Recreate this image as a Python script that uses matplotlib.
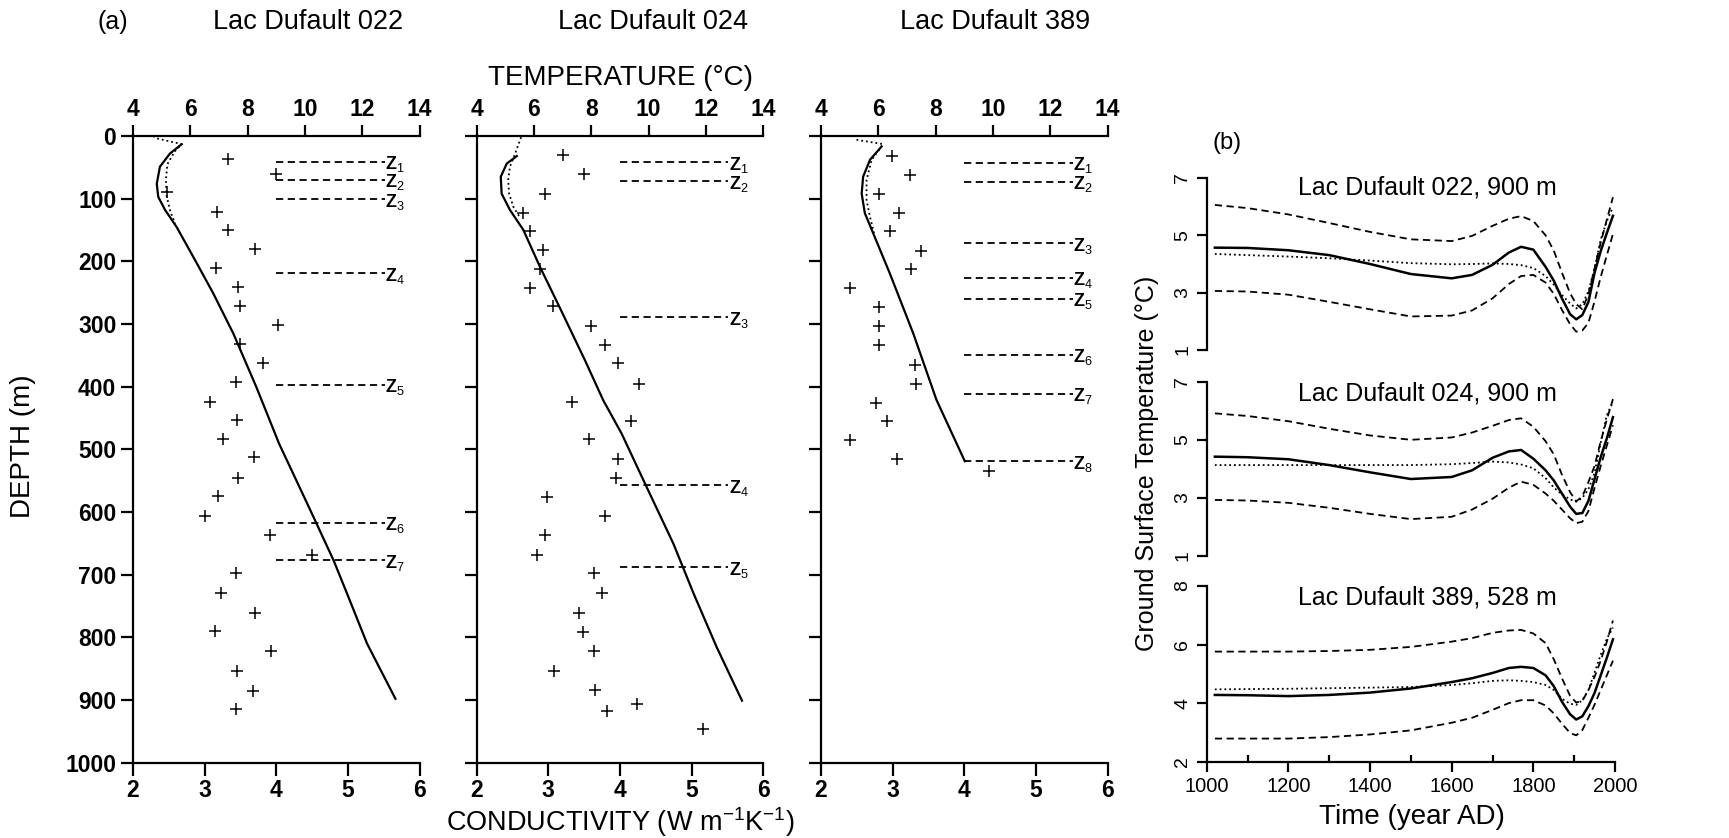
import numpy as np
import matplotlib
matplotlib.use('Agg')
import matplotlib.pyplot as plt

plt.rcParams['font.family'] = ['Liberation Sans', 'DejaVu Sans']
plt.rcParams['mathtext.fontset'] = 'custom'
plt.rcParams['mathtext.rm'] = 'Liberation Sans'
plt.rcParams['mathtext.bf'] = 'Liberation Sans:bold'
plt.rcParams['mathtext.it'] = 'Liberation Sans:italic'

##### (a) borehole profiles ##########################################
# temperature log (solid), depth in m / temperature in C
t022_depth = [13, 28, 49, 76, 97, 118, 145, 200, 251, 315, 400, 491, 603, 677, 730, 810, 898]
t022_temp = [5.70, 5.29, 4.94, 4.83, 4.88, 5.12, 5.52, 6.19, 6.80, 7.50, 8.30, 9.10, 10.25, 11.00, 11.47, 12.17, 13.16]
t024_depth = [32, 44, 65, 92, 118, 150, 209, 272, 358, 422, 475, 560, 651, 730, 816, 901]
t024_temp = [5.40, 5.05, 4.84, 4.87, 5.16, 5.63, 6.21, 6.88, 7.78, 8.42, 9.06, 9.93, 10.87, 11.57, 12.38, 13.26]
t389_depth = [17, 38, 65, 92, 123, 155, 219, 315, 421, 519]
t389_temp = [6.11, 5.71, 5.47, 5.42, 5.53, 5.82, 6.40, 7.22, 8.03, 9.02]

# model fit near surface (dotted)
f022_depth = [0, 4, 13, 25, 45, 70, 95, 120, 140]
f022_temp = [4.70, 4.85, 5.70, 5.45, 5.20, 5.15, 5.17, 5.30, 5.47]
f024_depth = [2, 28, 49, 70, 92, 113, 130]
f024_temp = [5.55, 5.34, 5.16, 5.10, 5.13, 5.28, 5.51]
f389_depth = [6, 13, 38, 70, 102, 129, 155]
f389_temp = [5.24, 6.17, 5.77, 5.59, 5.59, 5.71, 5.85]

# conductivity samples (+)
k022_depth = [36, 60, 90, 121, 150, 181, 211, 241, 272, 302, 332, 362, 393, 424, 453, 484,
              513, 546, 575, 607, 637, 668, 698, 729, 761, 790, 821, 853, 885, 914]
k022_cond = [3.32, 4.00, 2.47, 3.17, 3.33, 3.71, 3.16, 3.46, 3.50, 4.03, 3.49, 3.81, 3.44, 3.07, 3.45, 3.25,
             3.69, 3.46, 3.18, 3.00, 3.91, 4.50, 3.44, 3.23, 3.71, 3.14, 3.92, 3.45, 3.68, 3.44]
k024_depth = [31, 61, 93, 123, 151, 182, 213, 242, 272, 303, 334, 363, 395, 424, 454, 484, 515,
              545, 576, 607, 637, 668, 697, 729, 761, 792, 822, 854, 884, 907, 917, 946]
k024_cond = [3.20, 3.50, 2.95, 2.64, 2.75, 2.92, 2.88, 2.75, 3.07, 3.60, 3.79, 3.97, 4.26, 3.33, 4.15, 3.57, 3.97,
             3.95, 2.98, 3.79, 2.95, 2.84, 3.64, 3.75, 3.43, 3.48, 3.64, 3.08, 3.65, 4.24, 3.82, 5.16]
k389_depth = [32, 62, 93, 123, 152, 183, 213, 243, 273, 303, 333, 366, 395, 426, 455, 485, 515, 535]
k389_cond = [2.99, 3.24, 2.81, 3.09, 2.96, 3.39, 3.25, 2.41, 2.81, 2.81, 2.81, 3.31, 3.32, 2.77, 2.92, 2.41, 3.06, 4.34]

# depths of the Z levels
z022 = [41, 70, 101, 219, 397, 617, 677]
z024 = [42, 72, 289, 557, 688]
z389 = [43, 73, 171, 226, 260, 349, 411, 519]

titles_a = ['Lac Dufault 022', 'Lac Dufault 024', 'Lac Dufault 389']

##### (b) ground surface temperature histories #########################
years = [1020, 1100, 1200, 1300, 1400, 1500, 1600, 1650, 1700, 1740, 1770, 1800,
         1830, 1850, 1870, 1890, 1905, 1920, 1935, 1950, 1965, 1980, 1995]

g022_mid = [4.57, 4.56, 4.48, 4.31, 4.00, 3.65, 3.50, 3.62, 3.97, 4.40, 4.60, 4.50,
            3.90, 3.42, 2.80, 2.25, 2.07, 2.22, 2.68, 3.70, 4.45, 5.08, 5.68]
g022_up = [6.06, 5.95, 5.73, 5.43, 5.12, 4.86, 4.80, 4.98, 5.33, 5.58, 5.67, 5.50,
           5.00, 4.47, 3.70, 2.98, 2.60, 2.42, 2.95, 3.85, 4.75, 5.55, 6.33]
g022_lo = [3.06, 3.04, 2.93, 2.68, 2.42, 2.17, 2.20, 2.38, 2.80, 3.30, 3.58, 3.62,
           3.35, 2.96, 2.40, 1.90, 1.64, 1.68, 1.95, 2.70, 3.55, 4.30, 5.05]
g022_dot = [4.35, 4.31, 4.26, 4.20, 4.12, 4.03, 3.99, 4.00, 4.02, 4.00, 3.96, 3.86,
            3.58, 3.28, 2.92, 2.62, 2.45, 2.60, 3.05, 3.85, 4.85, 5.50, 5.98]

g024_mid = [4.42, 4.40, 4.33, 4.13, 3.88, 3.65, 3.72, 3.95, 4.38, 4.60, 4.65, 4.35,
            3.95, 3.60, 3.15, 2.70, 2.45, 2.48, 2.90, 3.65, 4.40, 5.05, 5.78]
g024_up = [5.91, 5.82, 5.64, 5.38, 5.15, 5.00, 5.08, 5.25, 5.48, 5.68, 5.74, 5.45,
           4.95, 4.50, 3.80, 3.20, 2.88, 3.05, 3.55, 4.10, 4.95, 5.70, 6.40]
g024_lo = [2.93, 2.91, 2.83, 2.66, 2.45, 2.27, 2.35, 2.60, 2.97, 3.35, 3.56, 3.45,
           3.15, 2.90, 2.60, 2.30, 2.13, 2.18, 2.55, 3.35, 4.10, 4.80, 5.50]
g024_dot = [4.13, 4.13, 4.13, 4.13, 4.13, 4.13, 4.16, 4.20, 4.25, 4.22, 4.15, 4.02,
            3.68, 3.36, 3.12, 2.95, 2.87, 3.00, 3.30, 3.85, 4.90, 5.85, 6.30]

g389_mid = [4.28, 4.27, 4.24, 4.28, 4.36, 4.50, 4.72, 4.85, 5.03, 5.20, 5.24, 5.20,
            4.95, 4.58, 4.05, 3.62, 3.44, 3.55, 3.90, 4.35, 4.95, 5.55, 6.18]
g389_up = [5.76, 5.76, 5.76, 5.78, 5.82, 5.92, 6.10, 6.22, 6.40, 6.48, 6.50, 6.38,
           6.05, 5.50, 4.85, 4.25, 4.02, 4.08, 4.45, 4.90, 5.45, 6.10, 6.82]
g389_lo = [2.79, 2.79, 2.79, 2.84, 2.93, 3.07, 3.33, 3.50, 3.77, 4.00, 4.10, 4.10,
           3.92, 3.65, 3.30, 2.98, 2.90, 3.08, 3.50, 3.95, 4.45, 4.95, 5.45]
g389_dot = [4.47, 4.48, 4.49, 4.51, 4.53, 4.55, 4.62, 4.68, 4.76, 4.78, 4.76, 4.72,
            4.62, 4.45, 4.15, 3.98, 3.94, 4.10, 4.45, 5.05, 5.65, 6.20, 6.58]

titles_b = ['Lac Dufault 022, 900 m', 'Lac Dufault 024, 900 m', 'Lac Dufault 389, 528 m']
ylims_b = [(1, 7), (1, 7), (2, 8)]
yticks_b = [[1, 3, 5, 7], [1, 3, 5, 7], [2, 4, 6, 8]]

##### figure ###########################################################
W, H = 1729, 838
fig = plt.figure(figsize=(W / 100, H / 100), dpi=100)

def fx(px):
    return px / W

def fy(py):
    return 1 - py / H

profiles = [
    (t022_depth, t022_temp, f022_depth, f022_temp, k022_depth, k022_cond, z022),
    (t024_depth, t024_temp, f024_depth, f024_temp, k024_depth, k024_cond, z024),
    (t389_depth, t389_temp, f389_depth, f389_temp, k389_depth, k389_cond, z389),
]
lefts_a = [133, 476.7, 821]

for i, (td, tt, fd, ft, kd, kc, zz) in enumerate(profiles):
    ax = fig.add_axes([fx(lefts_a[i]), fy(762.7), fx(286.5), (762.7 - 136) / H])
    ax.set_xlim(2, 6)
    ax.set_ylim(1000, 0)
    axT = ax.twiny()
    axT.set_xlim(4, 14)
    axT.set_ylim(1000, 0)

    ax.plot(kc, kd, '+', color='k', ms=8, mew=1.1)
    axT.plot(tt, td, '-', color='k', lw=1.6)
    axT.plot(ft, fd, ':', color='k', lw=1.3)
    for n, z in enumerate(zz):
        axT.plot([9.0, 12.78], [z, z], '--', color='k', lw=1.3, dashes=(4, 2.5))
        axT.text(12.8, z + 12, 'Z$_{%d}$' % (n + 1), fontsize=13, fontweight='bold',
                 ha='left', va='baseline')

    for s in ['right', 'top']:
        ax.spines[s].set_visible(False)
    for s in ['right', 'left', 'bottom']:
        axT.spines[s].set_visible(False)
    for a in (ax, axT):
        for s in a.spines.values():
            s.set_linewidth(1.6)

    ax.set_xticks([2, 3, 4, 5, 6])
    ax.set_yticks(np.arange(0, 1001, 100))
    axT.set_xticks([4, 6, 8, 10, 12, 14])
    ax.tick_params(axis='both', direction='out', length=9, width=1.6, labelsize=16.5, pad=3)
    axT.tick_params(axis='x', direction='out', length=8, width=1.6, labelsize=16.5, pad=3)
    if i > 0:
        ax.set_yticklabels([])
    for lab in ax.get_xticklabels() + ax.get_yticklabels() + axT.get_xticklabels():
        lab.set_fontweight('bold')

fig.text(fx(113), fy(22), '(a)', fontsize=18, ha='center', va='center')
for px, t in zip([308, 653, 995], titles_a):
    fig.text(fx(px), fy(22), t, fontsize=19.5, ha='center', va='center')
fig.text(fx(620), fy(78), 'TEMPERATURE (°C)', fontsize=20, ha='center', va='center')
fig.text(fx(620), fy(822), 'CONDUCTIVITY (W m$^{-1}$K$^{-1}$)', fontsize=19.5, ha='center', va='center')
fig.text(fx(23), fy(446), 'DEPTH (m)', fontsize=20, rotation=90, ha='center', va='center')

# panel (b)
series_b = [
    (g022_mid, g022_up, g022_lo, g022_dot),
    (g024_mid, g024_up, g024_lo, g024_dot),
    (g389_mid, g389_up, g389_lo, g389_dot),
]
tops_b = [178, 381.7, 586]
bots_b = [350, 556, 761.7]
title_y_b = [188, 393, 597]

for i, (mid, up, lo, dot) in enumerate(series_b):
    ax = fig.add_axes([fx(1206.7), fy(bots_b[i]), fx(1615 - 1206.7), (bots_b[i] - tops_b[i]) / H])
    ax.plot(years, mid, '-', color='k', lw=1.8)
    ax.plot(years, up, '--', color='k', lw=1.3, dashes=(4, 2.5))
    ax.plot(years, lo, '--', color='k', lw=1.3, dashes=(4, 2.5))
    ax.plot(years, dot, ':', color='k', lw=1.3)
    ax.set_xlim(1000, 2000)
    ax.set_ylim(*ylims_b[i])
    ax.set_yticks(yticks_b[i])
    ax.tick_params(axis='y', direction='out', length=7, width=1.6, labelsize=14, pad=4)
    for lab in ax.get_yticklabels():
        lab.set_rotation(90)
        lab.set_va('center')
    for s in ['right', 'top']:
        ax.spines[s].set_visible(False)
    ax.spines['left'].set_linewidth(1.6)
    ax.spines['bottom'].set_linewidth(1.6)
    if i < 2:
        ax.spines['bottom'].set_visible(False)
        ax.set_xticks([])
    else:
        ax.set_xticks(np.arange(1000, 2001, 200))
        ax.set_xticks(np.arange(1100, 2000, 200), minor=True)
        ax.tick_params(axis='x', which='major', direction='out', length=7, width=1.6,
                       labelsize=14.5, pad=4)
        ax.tick_params(axis='x', which='minor', direction='in', length=5, width=1.6)
    ax.patch.set_alpha(0)
    fig.text(fx(1427), fy(title_y_b[i]), titles_b[i], fontsize=18, ha='center', va='center')

fig.text(fx(1227), fy(143), '(b)', fontsize=17, ha='center', va='center')
fig.text(fx(1147), fy(463), 'Ground Surface Temperature (°C)', fontsize=18, rotation=90,
         ha='center', va='center')
fig.text(fx(1412), fy(817), 'Time (year AD)', fontsize=20, ha='center', va='center')

fig.savefig('out.png', dpi=100)
